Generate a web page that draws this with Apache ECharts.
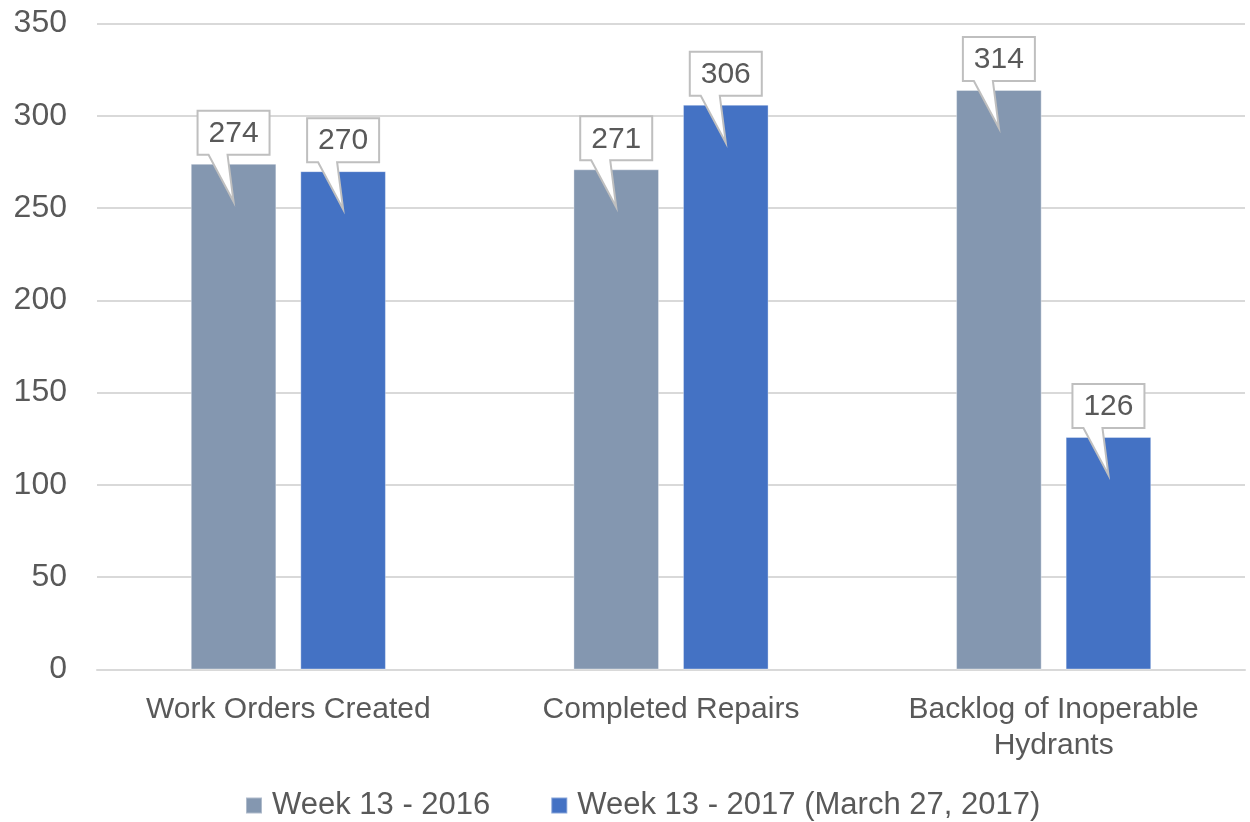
<!DOCTYPE html>
<html lang="en">

<head>
    <meta charset="UTF-8">
    <title>Hydrant work orders, week 13</title>
    <script type="text/javascript" src="https://cdn.jsdelivr.net/npm/echarts@6/dist/echarts.min.js"></script>
    <style>
        html, body {
            margin: 0;
            padding: 0;
            background: #fff;
        }

        #main {
            width: 1250px;
            height: 822px;
        }
    </style>
</head>

<body>
    <div id="main"></div>

    <script type="text/javascript">
        var categories = ['Work Orders Created', 'Completed Repairs', 'Backlog of Inoperable\nHydrants'];
        var seriesNames = ['Week 13 - 2016', 'Week 13 - 2017 (March 27, 2017)'];
        var week2016 = [274, 271, 314];
        var week2017 = [270, 306, 126];
        var yTicks = [0, 50, 100, 150, 200, 250, 300, 350];

        var colors = ['#8497B0', '#4472C4'];
        var font = '"Liberation Sans", Arial, sans-serif';
        var textColor = '#595959';
        var catGap = 0.49, barGap = 0.28;

        // callout box with a wedge pointing down into the bar
        function callout(side) {
            return function (params, api) {
                var p = api.coord([api.value(0), api.value(1)]);
                var band = api.size([1, 0])[0];
                var w = band * (1 - catGap) / (2 + barGap);
                var cx = p[0] + side * (w * (1 + barGap)) / 2;
                var top = p[1];
                var bw = 72, bh = 44;
                var L = cx - bw / 2, R = cx + bw / 2;
                var B = top - 9, T = B - bh;
                return {
                    type: 'group',
                    children: [{
                        type: 'polygon',
                        shape: {
                            points: [[L, T], [R, T], [R, B], [cx - 6, B], [cx, top + 38], [cx - 25, B], [L, B]]
                        },
                        style: { fill: '#fff', stroke: '#BFBFBF', lineWidth: 2 }
                    }, {
                        type: 'text',
                        style: {
                            text: String(api.value(1)),
                            x: cx, y: (T + B) / 2 + 1,
                            align: 'center', verticalAlign: 'middle',
                            fill: textColor, font: '30px ' + font
                        }
                    }]
                };
            };
        }

        var myChart = echarts.init(document.getElementById('main'));
        var option = {
            animation: false,
            legend: {
                top: 785,
                left: 240,
                data: seriesNames,
                itemWidth: 16,
                itemHeight: 16,
                itemGap: 60,
                icon: 'rect',
                textStyle: {
                    color: textColor,
                    fontSize: 31,
                    fontFamily: font,
                    padding: [0, 0, 0, 5]
                }
            },
            grid: {
                left: 97,
                right: 5,
                top: 23.5,
                bottom: 152.5
            },
            xAxis: {
                type: 'category',
                data: categories,
                axisTick: { show: false },
                axisLine: { lineStyle: { color: '#D9D9D9', width: 2 } },
                axisLabel: {
                    color: textColor,
                    fontSize: 30,
                    fontFamily: font,
                    margin: 22,
                    lineHeight: 36,
                    interval: 0
                }
            },
            yAxis: {
                type: 'value',
                min: yTicks[0],
                max: yTicks[yTicks.length - 1],
                interval: 50,
                axisLine: { show: false },
                axisTick: { show: false },
                axisLabel: {
                    color: textColor,
                    fontSize: 32,
                    fontFamily: font,
                    margin: 30
                },
                splitLine: { lineStyle: { color: '#D9D9D9', width: 2 } }
            },
            series: [{
                name: seriesNames[0],
                type: 'bar',
                data: week2016,
                barGap: (barGap * 100) + '%',
                barCategoryGap: (catGap * 100) + '%',
                itemStyle: { color: colors[0], borderColor: 'rgba(255,255,255,0.35)', borderWidth: 1 }
            }, {
                name: seriesNames[1],
                type: 'bar',
                data: week2017,
                itemStyle: { color: colors[1], borderColor: 'rgba(255,255,255,0.35)', borderWidth: 1 }
            }, {
                type: 'custom',
                renderItem: callout(-1),
                clip: false,
                z: 10,
                data: week2016.map(function (v, i) { return [i, v]; })
            }, {
                type: 'custom',
                renderItem: callout(1),
                clip: false,
                z: 10,
                data: week2017.map(function (v, i) { return [i, v]; })
            }]
        };

        myChart.setOption(option);
    </script>
</body>

</html>
